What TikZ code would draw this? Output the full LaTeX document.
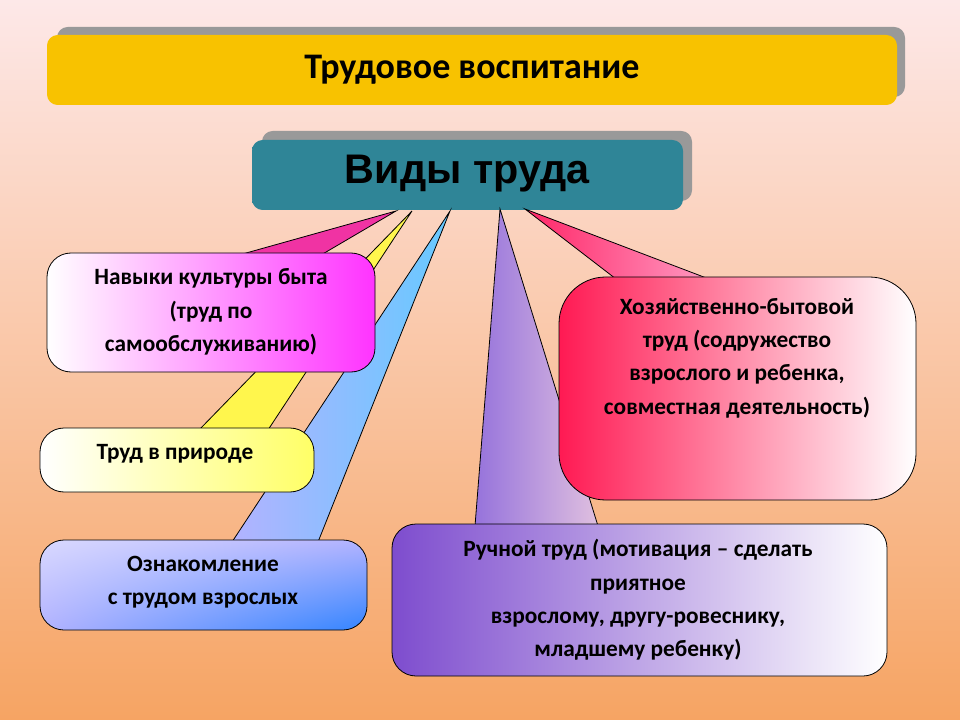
\documentclass[tikz,border=0pt]{standalone}
\usepackage{fontspec}
\usetikzlibrary{shadings}
\setmainfont{Carlito}
\newfontfamily\arialf{Liberation Sans}
\begin{document}
\begin{tikzpicture}[x=0.75pt,y=-0.75pt,
  box/.style={draw=black,line width=0.6pt,rounded corners=18},
  ptr/.style={draw=black,line width=0.6pt},
  txt/.style={font=\bfseries\fontsize{17.5}{25}\selectfont,align=center,text=black},
  shad/.style={fill=black!40,rounded corners=8}]
\definecolor{bgtop}{HTML}{FDE8E8}\definecolor{bgmid}{HTML}{FBCFAE}\definecolor{bgbot}{HTML}{F6A463}
\definecolor{goldA}{HTML}{F8C200}\definecolor{goldB}{HTML}{B08A10}
\definecolor{tealA}{HTML}{2F8597}
\useasboundingbox (0,0) rectangle (960,720);
\shade[top color=bgtop,middle color=bgmid,bottom color=bgbot] (0,0) rectangle (960,720);
% title
\fill[shad] (57,27) rectangle (905,97);
\shade[rounded corners=8,shading angle=90,top color=goldA,middle color=goldB,bottom color=goldA] (47,35) rectangle (897,105);
\node[font=\bfseries\fontsize{27}{30}\selectfont] (title) at (472,70) {Трудовое воспитание};
% Виды труда
\fill[shad] (262,131) rectangle (692,201);
\shade[rounded corners=8,shading angle=90,top color=tealA,middle color=white,bottom color=tealA] (252,140) rectangle (683,210);
\node[font=\arialf\bfseries\fontsize{31}{34}\selectfont] (vid) at (467,174) {Виды труда};
% pointers
\coordinate (tm) at (396,211); \coordinate (ty) at (412,211); \coordinate (tb) at (450,211);
\coordinate (tp) at (500,209); \coordinate (tr) at (525,209);
\path[ptr,fill=yellow!70] (ty) -- (199,430) -- (268,430) -- cycle;
\path[ptr,left color=blue!30!white,right color=blue!35!cyan!60!white] (tb) -- (232,542) -- (318,542) -- cycle;
\path[ptr,left color=violet!50!blue!55!white,right color=violet!25!white] (tp) -- (475,526) -- (598,526) -- cycle;
\path[ptr,fill=magenta!80!white] (tm) -- (239,255) -- (321,255) -- cycle;
\path[ptr,left color=red!70!magenta!85!white,right color=red!60!magenta!40!white] (tr) -- (616,279) -- (709,279) -- cycle;
% boxes
\shade[box,left color=white,right color=magenta!80!white] (47,253) rectangle (375,372);
\node[txt] (b1) at (211,312) {Навыки культуры быта\\(труд по\\самообслуживанию)};
\shade[box,left color=white,right color=yellow!60] (40,428) rectangle (314,492);
\node[txt] (b2) at (175,454) {Труд в природе};
\shade[box,upper left=blue!15!white,lower right=blue!60!cyan!80!white,upper right=blue!30!white,lower left=blue!30!white] (40,540) rectangle (367,630);
\node[txt] (b3) at (203,582) {Ознакомление\\с трудом взрослых};
\shade[box,left color=violet!55!blue!70!white,right color=white] (392,524) rectangle (887,676);
\node[txt] (b4) at (638,600) {Ручной труд (мотивация – сделать\\приятное\\взрослому, другу-ровеснику,\\младшему ребенку)};
\shade[box,rounded corners=35,left color=red!75!magenta!90!white,right color=white] (559,277) rectangle (916,500);
\node[txt] (b5) at (737,358) {Хозяйственно-бытовой\\труд (содружество\\взрослого и ребенка,\\совместная деятельность)};
\end{tikzpicture}
\end{document}
